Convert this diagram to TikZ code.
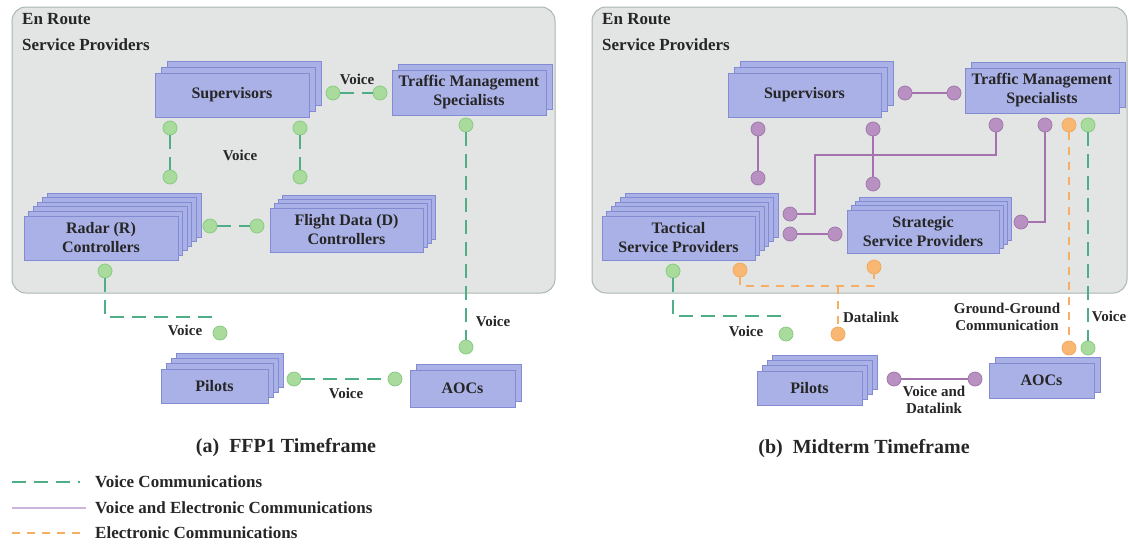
\documentclass[tikz,border=0pt]{standalone}
\usepackage{fontspec}
\setmainfont{Liberation Serif}
\usepackage{tikz}
\usepackage{xcolor}
\usetikzlibrary{positioning}

\definecolor{panelfill}{HTML}{E3E5E4}
\definecolor{paneledge}{HTML}{A9B7B0}
\definecolor{unitfill}{HTML}{AAB1E6}
\definecolor{unitedge}{HTML}{838CD2}
\definecolor{vgreen}{HTML}{4FAE85}
\definecolor{vgreendot}{HTML}{A8DB9C}
\definecolor{vgreenedge}{HTML}{8ACB84}
\definecolor{vpurple}{HTML}{A473AE}
\definecolor{vpurpledot}{HTML}{B890C1}
\definecolor{vpurpleedge}{HTML}{A079AC}
\definecolor{vlilac}{HTML}{CDB6DC}
\definecolor{vorange}{HTML}{F5AE63}
\definecolor{vorangedot}{HTML}{F8B873}
\definecolor{vorangeedge}{HTML}{F2A95F}

% stack of unit boxes: name, x, y, width, height, layers behind, step, text
\newcommand{\stackbox}[8]{%
  \foreach \k in {#6,...,1}
    \node[unit, minimum width=#4pt, minimum height=#5pt] at ({#2+\k*#7},{#3-\k*#7}) {};
  \node[unit, minimum width=#4pt, minimum height=#5pt] (#1) at (#2,#3) {#8};
}

\begin{document}
\begin{tikzpicture}
  [x=1pt,y=-1pt,
   unit/.style={rectangle,fill=unitfill,draw=unitedge,line width=1pt,inner sep=0pt,
     align=center,font=\fontsize{16}{19}\selectfont\bfseries,text=black!85},
   panel/.style={rounded corners=14pt,fill=panelfill,draw=paneledge,line width=1pt},
   lbl/.style={font=\fontsize{15}{17}\selectfont\bfseries,text=black!85,inner sep=0pt,align=center},
   head/.style={lbl,anchor=north west,align=left,font=\fontsize{17}{26}\selectfont\bfseries},
   key/.style={lbl,anchor=west,font=\fontsize{17}{20}\selectfont\bfseries},
   gdot/.style={circle,fill=vgreendot,draw=vgreenedge,line width=0.8pt,inner sep=0pt,minimum size=14pt},
   pdot/.style={circle,fill=vpurpledot,draw=vpurpleedge,line width=0.8pt,inner sep=0pt,minimum size=14pt},
   odot/.style={circle,fill=vorangedot,draw=vorangeedge,line width=0.8pt,inner sep=0pt,minimum size=14pt},
   voice/.style={draw=vgreen,line width=2.8pt,dash pattern=on 14pt off 8pt},
   both/.style={draw=vpurple,line width=2.6pt},
   elec/.style={draw=vorange,line width=2.6pt,dash pattern=on 8pt off 7pt}]

  \useasboundingbox (0,0) rectangle (1129,544);

  % ---------- (a) FFP1 ----------
  \draw[panel] (12,7) rectangle (555,293);
  \node[head] (ena) at (22,13) {En Route\\Service Providers};

  \stackbox{supa}{232}{95}{154}{44}{2}{6}{Supervisors}
  \stackbox{tmsa}{469}{92.5}{154}{45}{1}{6}{Traffic Management\\Specialists}
  \stackbox{rca}{101}{238}{154}{44}{5}{4.6}{Radar (R)\\Controllers}
  \stackbox{fda}{346.5}{230}{153}{44}{3}{4.2}{Flight Data (D)\\Controllers}
  \stackbox{pila}{214.5}{386}{107}{34}{3}{5.2}{Pilots}
  \stackbox{aoca}{462.5}{388.5}{105}{37}{1}{6}{AOCs}

  \node[gdot] (a1) at (333,93) {};
  \node[gdot] (a2) at (380,93) {};
  \node[gdot] (a3) at (170,128) {};
  \node[gdot] (a4) at (170,177) {};
  \node[gdot] (a5) at (300,128) {};
  \node[gdot] (a6) at (300,177) {};
  \node[gdot] (a7) at (210,226) {};
  \node[gdot] (a8) at (257,226) {};
  \node[gdot] (a9) at (466,125) {};
  \node[gdot] (a10) at (466,347) {};
  \node[gdot] (a11) at (105,271) {};
  \node[gdot] (a12) at (220,333) {};
  \node[gdot] (a13) at (294,379) {};
  \node[gdot] (a14) at (395,379) {};
  \coordinate (a15) at (220,317);

  \foreach \from/\to in {a1/a2,a3/a4,a5/a6,a7/a8,a9/a10,a13/a14}
    \draw[voice] (\from) -- (\to);
  \draw[voice] (a11) |- (a15);

  \node[lbl] (va1) at (357,79) {Voice};
  \node[lbl] (va2) at (240,155) {Voice};
  \node[lbl] (va3) at (493,321) {Voice};
  \node[lbl] (va4) at (185,330) {Voice};
  \node[lbl] (va5) at (346,393) {Voice};

  \node[font=\fontsize{20}{24}\selectfont\bfseries,text=black!85] (capa) at (286,448) {(a)\ \ FFP1 Timeframe};

  % ---------- (b) Midterm ----------
  \draw[panel] (592,7) rectangle (1127,293);
  \node[head] (enb) at (602,13) {En Route\\Service Providers};

  \stackbox{supb}{804.5}{95}{153}{44}{2}{6}{Supervisors}
  \stackbox{tmsb}{1042}{90.5}{154}{45}{1}{6}{Traffic Management\\Specialists}
  \stackbox{tacb}{678.5}{238}{153}{44}{5}{4.6}{Tactical\\Service Providers}
  \stackbox{strb}{923}{231.5}{152}{43}{3}{4.3}{Strategic\\Service Providers}
  \stackbox{pilb}{809.5}{388}{105}{34}{3}{5.2}{Pilots}
  \stackbox{aocb}{1041.5}{380.5}{105}{35}{1}{6}{AOCs}

  \node[pdot] (b1) at (905,93) {};
  \node[pdot] (b2) at (954,93) {};
  \node[pdot] (b3) at (758,129) {};
  \node[pdot] (b4) at (758,178) {};
  \node[pdot] (b5) at (873,129) {};
  \node[pdot] (b6) at (873,184) {};
  \node[pdot] (b7) at (996,125) {};
  \node[pdot] (b8) at (790,214) {};
  \node[pdot] (b9) at (1045,125) {};
  \node[pdot] (b10) at (1021,222) {};
  \node[pdot] (b11) at (790,234) {};
  \node[pdot] (b12) at (835,234) {};
  \node[pdot] (b13) at (894,379) {};
  \node[pdot] (b14) at (975,379) {};

  \node[odot] (o1) at (1069,125) {};
  \node[odot] (o2) at (1069,348) {};
  \node[odot] (o3) at (740,270) {};
  \node[odot] (o4) at (874,267) {};
  \node[odot] (o5) at (838,334) {};
  \coordinate (o6) at (838,286);

  \node[gdot] (g1) at (1088,125) {};
  \node[gdot] (g2) at (1088,348) {};
  \node[gdot] (g3) at (673,271) {};
  \node[gdot] (g4) at (786,334) {};
  \coordinate (g5) at (786,316);

  \foreach \from/\to in {b1/b2,b3/b4,b5/b6,b11/b12,b13/b14}
    \draw[both] (\from) -- (\to);
  \draw[both] (b7) |- (815,155) |- (b8);
  \draw[both] (b9) |- (b10);

  \draw[elec] (o1) -- (o2);
  \draw[elec] (o3) |- (o6) -| (o4);
  \draw[elec] (o6) -- (o5);

  \draw[voice] (g1) -- (g2);
  \draw[voice] (g3) |- (g5);

  \node[lbl] (vb1) at (746,331) {Voice};
  \node[lbl] (vb2) at (871,317) {Datalink};
  \node[lbl] (vb3) at (1007,317) {Ground-Ground\\Communication};
  \node[lbl] (vb4) at (1109,316) {Voice};
  \node[lbl] (vb5) at (934,400) {Voice and\\Datalink};

  \node[font=\fontsize{20}{24}\selectfont\bfseries,text=black!85] (capb) at (864,449) {(b)\ \ Midterm Timeframe};

  % ---------- legend ----------
  \coordinate (l1a) at (12,482);  \coordinate (l1b) at (80,482);
  \coordinate (l2a) at (12,508);  \coordinate (l2b) at (86,508);
  \coordinate (l3a) at (12,533);  \coordinate (l3b) at (84,533);
  \draw[voice] (l1a) -- (l1b);
  \draw[both,draw=vlilac,line width=2.8pt] (l2a) -- (l2b);
  \draw[elec] (l3a) -- (l3b);
  \node[key] (k1) at (95,482) {Voice Communications};
  \node[key] (k2) at (95,508) {Voice and Electronic Communications};
  \node[key] (k3) at (95,533) {Electronic Communications};

\end{tikzpicture}
\end{document}
